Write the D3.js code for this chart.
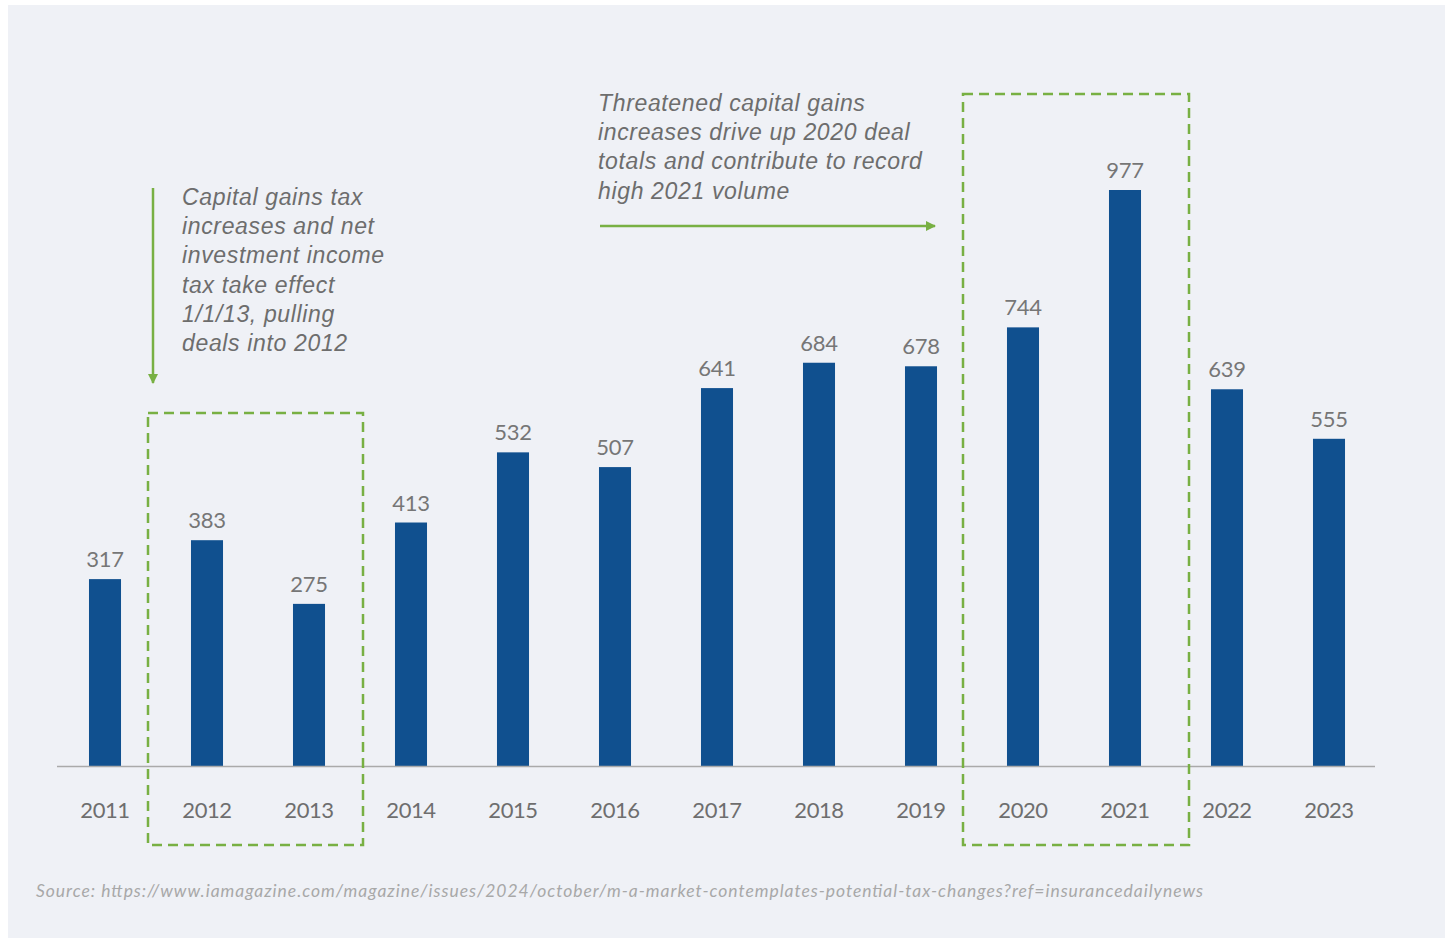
<!DOCTYPE html>
<html>
<head>
<meta charset="utf-8">
<script src="https://cdn.jsdelivr.net/npm/d3@7"></script>
<style>
  html, body { margin: 0; padding: 0; background: #ffffff; }
  svg { display: block; }
</style>
</head>
<body>
<svg id="chart" width="1448" height="940"></svg>
<script>
// data
const years = ["2011","2012","2013","2014","2015","2016","2017","2018","2019","2020","2021","2022","2023"];
const deals = [317, 383, 275, 413, 532, 507, 641, 684, 678, 744, 977, 639, 555];

const note2012 = ["Capital gains tax", "increases and net", "investment income",
                  "tax take effect", "1/1/13, pulling", "deals into 2012"];
const note2021 = ["Threatened capital gains", "increases drive up 2020 deal",
                  "totals and contribute to record", "high 2021 volume"];
const sourceText = "Source: https://www.iamagazine.com/magazine/issues/2024/october/m-a-market-contemplates-potential-tax-changes?ref=insurancedailynews";

const W = 1448, H = 940;
const baseY = 766;
const green = "#78b043";

const svg = d3.select("#chart");

// fondo
svg.append("rect").attr("x", 8).attr("y", 5).attr("width", 1437).attr("height", 933)
  .attr("fill", "#eff1f6");

const x = d3.scaleBand().domain(years).range([54, 1380]).paddingInner(0.686).paddingOuter(0.343);
const y = d3.scaleLinear().domain([0, 977]).range([baseY, 190]);

// barras
svg.append("g").selectAll("rect")
  .data(years)
  .enter().append("rect")
  .attr("x", (d,i) => x(d))
  .attr("y", (d,i) => y(deals[i]))
  .attr("width", x.bandwidth())
  .attr("height", (d,i) => baseY - y(deals[i]))
  .attr("fill", "#10508f");

// etiquetas de valor
svg.append("g").selectAll("text")
  .data(years)
  .enter().append("text")
  .attr("x", d => x(d) + x.bandwidth()/2)
  .attr("y", (d,i) => y(deals[i]) - 12)
  .attr("text-anchor", "middle")
  .attr("fill", "#767676")
  .style("font-family", "Lato, 'Open Sans', sans-serif")
  .style("font-size", "22px")
  .style("letter-spacing", "-0.3px")
  .text((d,i) => deals[i]);

// eje x
const axis = svg.append("g").attr("transform", `translate(0,${baseY})`)
  .call(d3.axisBottom(x).tickSize(0).tickPadding(36));
axis.select(".domain").remove();
axis.append("line").attr("x1", 57).attr("x2", 1375).attr("y1", 0.5).attr("y2", 0.5)
  .attr("stroke", "#aaaaaa").attr("stroke-width", 1.5);
axis.selectAll(".tick text")
  .attr("fill", "#6e6e6e")
  .style("font-family", "Lato, 'Open Sans', sans-serif")
  .style("font-size", "22px")
  .style("letter-spacing", "-0.4px");

// recuadros discontinuos
function dashedBox(x0, y0, x1, y1){
  svg.append("rect").attr("x", x0).attr("y", y0).attr("width", x1-x0).attr("height", y1-y0)
    .attr("fill", "none").attr("stroke", green).attr("stroke-width", 2.5)
    .attr("stroke-dasharray", "10,6");
}
dashedBox(148, 413, 363, 845);
dashedBox(963, 94, 1189, 845);

// flechas
const defs = svg.append("defs");
defs.append("marker").attr("id", "arrow").attr("viewBox", "0 0 10 10")
  .attr("refX", 9).attr("refY", 5).attr("markerWidth", 4).attr("markerHeight", 4)
  .attr("orient", "auto")
  .append("path").attr("d", "M0,0L10,5L0,10Z").attr("fill", green);

svg.append("line").attr("x1", 153).attr("y1", 188).attr("x2", 153).attr("y2", 383)
  .attr("stroke", green).attr("stroke-width", 2.5).attr("marker-end", "url(#arrow)");
svg.append("line").attr("x1", 600).attr("y1", 226).attr("x2", 935).attr("y2", 226)
  .attr("stroke", green).attr("stroke-width", 2.5).attr("marker-end", "url(#arrow)");

// notas
function note(lines, x0, y0){
  svg.append("g").selectAll("text")
    .data(lines)
    .enter().append("text")
    .attr("x", x0)
    .attr("y", (d,i) => y0 + i*29.2)
    .attr("fill", "#6d6d6d")
    .style("font-family", "'Liberation Sans', Arial, sans-serif")
    .style("font-style", "italic")
    .style("font-size", "23px")
    .style("letter-spacing", "0.65px")
    .text(d => d);
}
note(note2012, 182, 205);
note(note2021, 598, 111);

// fuente
svg.append("text").attr("x", 36).attr("y", 897)
  .attr("fill", "#a8a8a8")
  .attr("textLength", 1167)
  .attr("lengthAdjust", "spacing")
  .style("font-family", "Lato, 'Open Sans', sans-serif")
  .style("font-style", "italic")
  .style("font-size", "17.5px")
  .text(sourceText);
</script>
</body>
</html>
